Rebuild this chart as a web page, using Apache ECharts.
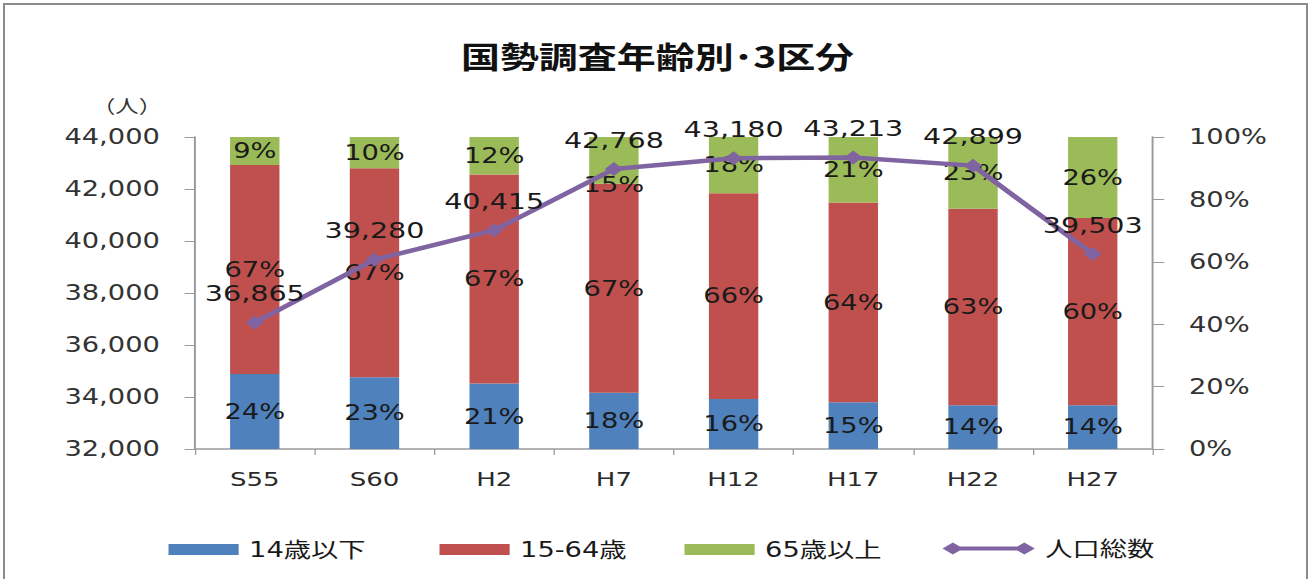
<!DOCTYPE html>
<html>
<head>
<meta charset="utf-8">
<script src="https://cdn.jsdelivr.net/npm/echarts@6/dist/echarts.min.js"></script>
<style>
  html, body { margin: 0; padding: 0; background: #fff; overflow: hidden; }
  #stage { position: relative; width: 1315px; height: 579px; overflow: hidden; background: #fff; }
  #frame { position: absolute; left: 3px; top: 3px; width: 1305px; height: 620px; border: 2px solid #8c8c8c; box-sizing: border-box; }
  /* chart is laid out narrower, then widened so every glyph gets the broad look */
  #chart { position: absolute; left: 0; top: 0; width: 1012px; height: 579px; transform-origin: 0 0; }
</style>
</head>
<body>
<div id="stage">
  <div id="frame"></div>
  <div id="chart"></div>
</div>
<script>
// 国勢調査：年齢3区分の構成比と人口総数
const categories = ['S55', 'S60', 'H2', 'H7', 'H12', 'H17', 'H22', 'H27'];
const under14 = [24, 23, 21, 18, 16, 15, 14, 14];      // 14歳以下 (%)
const age15to64 = [67, 67, 67, 67, 66, 64, 63, 60];    // 15-64歳 (%)
const over65 = [9, 10, 12, 15, 18, 21, 23, 26];        // 65歳以上 (%)
const population = [36865, 39280, 40415, 42768, 43180, 43213, 42899, 39503]; // 人口総数 (人)
const leftTicks = [32000, 44000, 2000];  // min, max, step
const rightTicks = [0, 100, 20];

const STAGE_W = 1315;
const CHART_W = 1012;
const SX = STAGE_W / CHART_W;
const el = document.getElementById('chart');
el.style.transform = 'scaleX(' + SX + ')';

const NUM_FONT = "'DejaVu Sans', 'Noto Sans CJK JP', sans-serif";
const JP_FONT = "'Noto Sans CJK JP', sans-serif";
const LEGEND_FONT = "'DejaVu Sans', 'Noto Sans CJK JP', sans-serif";
const fmt = v => Number(v).toLocaleString('en-US');
const px = x => x / SX;   // stage x -> chart x

const chart = echarts.init(el, null, { renderer: 'svg' });

const pctLabel = {
  show: true, position: 'inside', formatter: '{c}%',
  color: '#1a1a1a', fontFamily: NUM_FONT, fontSize: 21
};

// the H7 share label for 65歳以上 sits just under its segment
const over65Data = over65.map((v, i) => i === 3
  ? { value: v, label: { offset: [0, 24] } }
  : v);

const lineIcon = 'path://M0,6 L8,0 L16,6 L8,12 Z M8,4 L63,4 L63,8 L8,8 Z M55,6 L63,0 L71,6 L63,12 Z';

const legendBase = {
  top: 534, itemHeight: 11, itemWidth: 54, icon: 'rect',
  textStyle: { fontFamily: LEGEND_FONT, fontSize: 21, color: '#1a1a1a', padding: [0, 0, 0, 3] }
};

chart.setOption({
  backgroundColor: 'transparent',
  animation: false,
  title: {
    text: '国勢調査年齢別･3区分',
    left: 'center', top: 35,
    textStyle: { fontFamily: JP_FONT, fontWeight: 'bold', fontSize: 30, color: '#111' }
  },
  graphic: [{
    type: 'text', x: px(127), y: 96,
    style: { text: '（人）', textAlign: 'center', fontFamily: JP_FONT, fontSize: 18, fill: '#333' }
  }],
  legend: [
    Object.assign({}, legendBase, { left: px(162), data: ['14歳以下'] }),
    Object.assign({}, legendBase, { left: px(433), data: ['15-64歳'] }),
    Object.assign({}, legendBase, { left: px(678), data: ['65歳以上'] }),
    Object.assign({}, legendBase, { left: px(936), top: 533, itemWidth: 71, itemHeight: 12, icon: lineIcon, data: ['人口総数'] })
  ],
  grid: { left: 150, right: 125, top: 137, bottom: 130 },
  xAxis: {
    type: 'category', data: categories,
    axisLine: { lineStyle: { color: '#9a9a9a', width: 1.5 } },
    axisTick: { show: true, length: 6, lineStyle: { color: '#9a9a9a' } },
    axisLabel: { margin: 20, fontFamily: NUM_FONT, fontSize: 20, color: '#2a2a2a' }
  },
  yAxis: [{
    type: 'value', min: leftTicks[0], max: leftTicks[1], interval: leftTicks[2],
    axisLine: { show: true, lineStyle: { color: '#9a9a9a', width: 1.5 } },
    axisTick: { show: true, length: 8, lineStyle: { color: '#9a9a9a' } },
    splitLine: { show: false },
    axisLabel: { margin: 27, formatter: fmt, fontFamily: NUM_FONT, fontSize: 21, color: '#333' }
  }, {
    type: 'value', min: rightTicks[0], max: rightTicks[1], interval: rightTicks[2],
    position: 'right',
    axisLine: { show: true, lineStyle: { color: '#9a9a9a', width: 1.5 } },
    axisTick: { show: true, length: 9, lineStyle: { color: '#9a9a9a' } },
    splitLine: { show: false },
    axisLabel: { margin: 28, formatter: '{value}%', fontFamily: NUM_FONT, fontSize: 21, color: '#333' }
  }],
  series: [{
    name: '14歳以下', type: 'bar', stack: 'share', yAxisIndex: 1, barWidth: 38,
    itemStyle: { color: '#4F81BD' }, label: pctLabel, data: under14
  }, {
    name: '15-64歳', type: 'bar', stack: 'share', yAxisIndex: 1, barWidth: 38,
    itemStyle: { color: '#C0504D' }, label: pctLabel, data: age15to64
  }, {
    name: '65歳以上', type: 'bar', stack: 'share', yAxisIndex: 1, barWidth: 38,
    itemStyle: { color: '#9BBB59' }, label: pctLabel, data: over65Data
  }, {
    name: '人口総数', type: 'line', yAxisIndex: 0, z: 5,
    symbol: 'diamond', symbolSize: 14,
    lineStyle: { color: '#8064A2', width: 4.5 },
    itemStyle: { color: '#8064A2' },
    label: {
      show: true, position: 'top', distance: 11, formatter: p => fmt(p.value),
      color: '#1a1a1a', fontFamily: NUM_FONT, fontSize: 22
    },
    data: population
  }]
});
</script>
</body>
</html>
